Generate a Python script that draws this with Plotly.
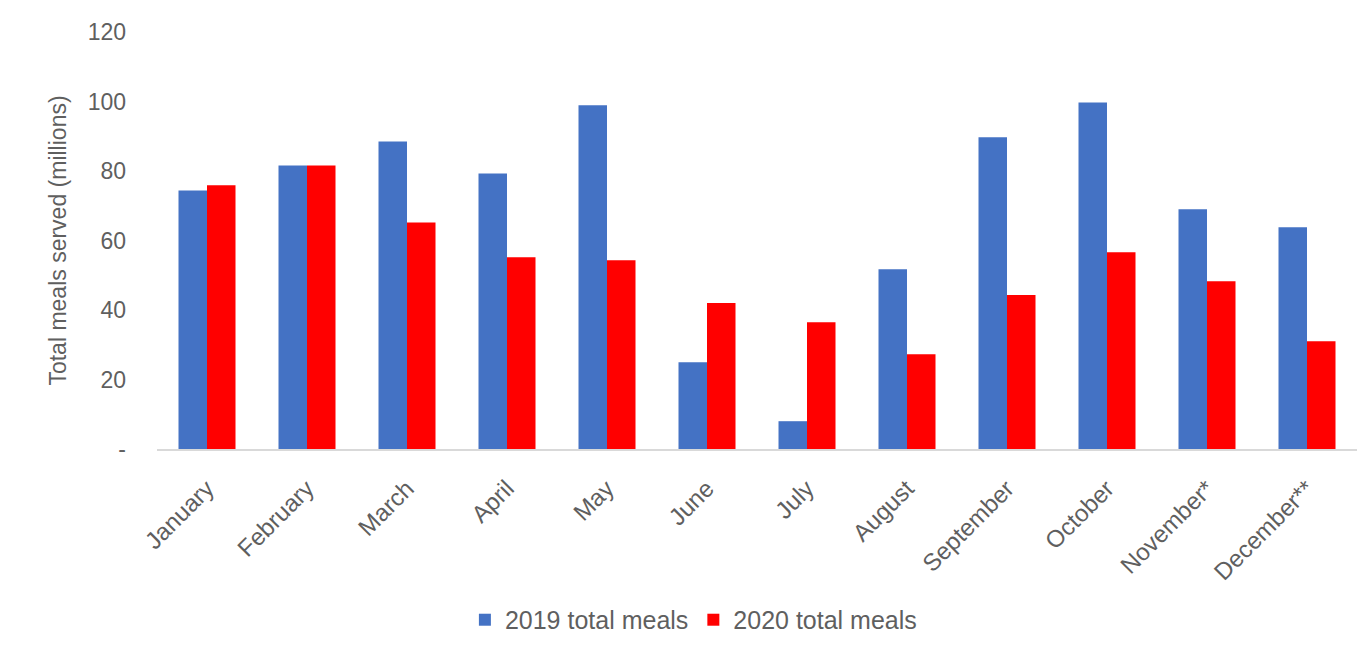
import plotly.graph_objects as go

months = ["January", "February", "March", "April", "May", "June", "July",
          "August", "September", "October", "November*", "December**"]
meals_2019 = [74.4, 81.6, 88.5, 79.3, 98.9, 25.0, 8.0, 51.7, 89.7, 99.7, 69.0, 63.8]
meals_2020 = [75.9, 81.6, 65.2, 55.2, 54.3, 42.0, 36.5, 27.3, 44.3, 56.6, 48.3, 31.0]
y_tickvals = [0, 20, 40, 60, 80, 100, 120]
y_ticktext = ["-", "20", "40", "60", "80", "100", "120"]

font_family = "Liberation Sans, Arial, sans-serif"
text_color = "#5f5f5f"

fig = go.Figure()
fig.add_trace(go.Bar(name="2019 total meals", x=months, y=meals_2019,
                     marker=dict(color="#4472C4", line=dict(width=0))))
fig.add_trace(go.Bar(name="2020 total meals", x=months, y=meals_2020,
                     marker=dict(color="#FF0000", line=dict(width=0))))

fig.update_layout(
    width=1372, height=650,
    paper_bgcolor="white", plot_bgcolor="white",
    barmode="group", bargap=0.43, bargroupgap=0,
    margin=dict(l=149, r=23, t=24, b=209),
    font=dict(family=font_family, color=text_color, size=22),
    legend=dict(orientation="h", x=0.447, xanchor="center", y=-0.41, yanchor="middle",
                font=dict(size=25, color=text_color),
                traceorder="normal"),
    xaxis=dict(tickangle=-45, tickfont=dict(size=24, color=text_color),
               showline=True, linecolor="#d9d9d9", linewidth=2,
               showgrid=False, ticks="", ticklabelstandoff=14),
    yaxis=dict(range=[0, 120], tickvals=y_tickvals, ticktext=y_ticktext,
               tickfont=dict(size=23, color=text_color), showgrid=False,
               zeroline=False, showline=False, ticks="", ticklabelstandoff=30,
               title=dict(text="Total meals served (millions)",
                          font=dict(size=23, color=text_color), standoff=14)),
)

fig.write_html("out.html")
